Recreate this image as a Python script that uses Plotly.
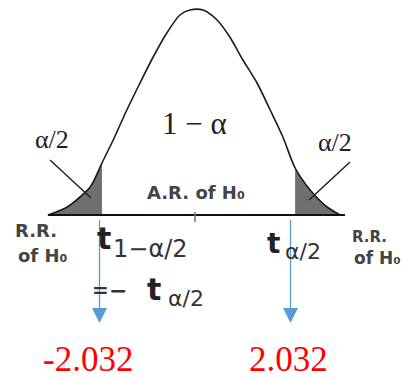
import numpy as np
import plotly.graph_objects as go

# ---- data -------------------------------------------------------------
# density curve traced in t units (x) and height above the axis (y)
curve_t = [-3.13, -2.72, -2.23, -1.98, -1.74, -1.45, -1.17, -0.89, -0.60,
           -0.32, -0.11, 0.17, 0.47, 0.74, 1.02, 1.32, 1.60, 1.87, 2.13,
           2.45, 2.81, 3.09]
curve_h = [0, 8, 28, 52, 75, 105, 132, 158, 182, 200, 205, 205, 195, 178,
           155, 132, 105, 78, 47, 25, 8, 0]

# rejection-region edges of the shaded tails
left_tail = (-3.13, -1.98)
right_tail = (2.13, 3.09)
axis_span = (-3.13, 3.19)

# critical values marked by the arrows
crit_values = [-2.032, 2.032]
crit_labels = ["-2.032", "2.032"]

# ---- geometry helpers ---------------------------------------------------
W, H = 405, 379
PX_PER_T = 47.0       # horizontal scale, pixels per t unit
X0 = 195.0            # pixel column of t = 0
BASE = 215.0          # pixel row of the horizontal axis


def tx(px):
    return (px - X0) / PX_PER_T


def hy(py):
    return BASE - py


def dx(pixels):
    return pixels / PX_PER_T


fig = go.Figure()

# shaded tails
for lo, hi in (left_tail, right_tail):
    ts = [lo] + [t for t in curve_t if lo < t < hi] + [hi]
    hs = list(np.interp(ts, curve_t, curve_h))
    fig.add_trace(go.Scatter(
        x=ts + [hi, lo], y=hs + [0, 0], fill="toself", mode="none",
        fillcolor="#6f6f6f", hoverinfo="skip", showlegend=False))

# curve
fig.add_trace(go.Scatter(
    x=curve_t, y=curve_h, mode="lines",
    line=dict(color="#1c1c1c", width=1.6, shape="spline", smoothing=0.8),
    hoverinfo="skip", showlegend=False))

shapes = []
# horizontal axis
shapes.append(dict(type="line", x0=axis_span[0], x1=axis_span[1], y0=0, y1=0,
                   line=dict(color="#111", width=2.2)))
# centre tick
shapes.append(dict(type="line", x0=0, x1=0, y0=hy(212), y1=hy(222),
                   line=dict(color="#777", width=1.5)))
# leader lines from the alpha/2 labels
shapes.append(dict(type="line", x0=tx(50), y0=hy(160), x1=tx(91), y1=hy(198),
                   line=dict(color="#222", width=1.5)))
shapes.append(dict(type="line", x0=tx(350), y0=hy(162), x1=tx(309), y1=hy(200),
                   line=dict(color="#222", width=1.5)))

# blue arrows down to the critical values
blue = "#5b9bd5"
for c in crit_values:
    shapes.append(dict(type="line", x0=c, x1=c, y0=hy(220), y1=hy(309),
                       line=dict(color=blue, width=1.3)))
    fig.add_trace(go.Scatter(
        x=[c - dx(7.5), c + dx(7.5), c, c - dx(7.5)],
        y=[hy(308), hy(308), hy(323), hy(308)],
        fill="toself", mode="none", fillcolor=blue,
        hoverinfo="skip", showlegend=False))

ann = []


def label(text, px, py, size, family="DejaVu Sans", color="#222",
          xanchor="center", yanchor="middle", weight="normal"):
    ann.append(dict(text=text, x=tx(px), y=hy(py), xref="x", yref="y",
                    showarrow=False, xanchor=xanchor, yanchor=yanchor,
                    font=dict(family=family, size=size, color=color,
                              weight=weight)))


serif = "Liberation Serif"
B = "bold"
label("α/2", 52, 139, 26, serif)
label("1 − α", 194, 123, 31, serif)
label("α/2", 335, 142, 26, serif)
label("A.R. of H₀", 145, 192, 18, color="#444", xanchor="left", weight=B)

label("R.R.", 13, 230, 18, color="#444", xanchor="left", weight=B)
label("of H₀", 16, 255, 18, color="#444", xanchor="left", weight=B)
label("R.R.", 350, 237, 15, color="#444", xanchor="left", weight=B)
label("of H₀", 352, 258, 17, color="#444", xanchor="left", weight=B)

label("t", 95, 238, 30, color="#222", xanchor="left", weight=B)
label("1−α/2", 111, 249, 24, color="#333", xanchor="left")
label("t", 265, 243, 28, color="#222", xanchor="left", weight=B)
label("α/2", 283, 251, 22, color="#333", xanchor="left")

label("=", 90, 290, 20, color="#333", xanchor="left", weight=B)
label("−", 107, 290, 22, color="#333", xanchor="left", weight=B)
label("t", 145, 289, 30, color="#222", xanchor="left", weight=B)
label("α/2", 166, 298, 22, color="#333", xanchor="left")

for c, s in zip(crit_values, crit_labels):
    label(s, (X0 + c * PX_PER_T) + (-12 if c < 0 else -2), 359.5, 35,
          serif, color="#ff0000")

fig.update_layout(
    width=W, height=H, margin=dict(l=0, r=0, t=0, b=0),
    paper_bgcolor="white", plot_bgcolor="white",
    xaxis=dict(range=[tx(0), tx(W)], visible=False, fixedrange=True),
    yaxis=dict(range=[hy(H), hy(0)], visible=False, fixedrange=True),
    shapes=shapes, annotations=ann, showlegend=False,
)

fig.write_html("out.html")
